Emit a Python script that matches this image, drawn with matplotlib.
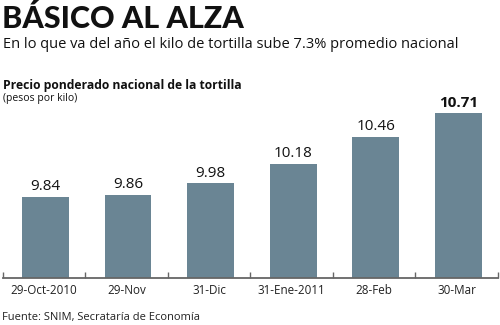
import matplotlib.pyplot as plt
import numpy as np

fechas = ["29-Oct-2010", "29-Nov", "31-Dic", "31-Ene-2011", "28-Feb", "30-Mar"]
precios = [9.84, 9.86, 9.98, 10.18, 10.46, 10.71]
etiquetas = ["9.84", "9.86", "9.98", "10.18", "10.46", "10.71"]

bar_color = "#6a8594"
plt.rcParams["font.family"] = ["Open Sans", "DejaVu Sans"]

fig = plt.figure(figsize=(5, 3.25), dpi=100)
ax = fig.add_axes([0.005, 0.1446, 0.991, 0.5646])

x = np.arange(len(precios))
ax.bar(x + 0.02, precios, width=0.565, color=bar_color, bottom=0)
ax.set_ylim(9.0, 10.9)
ax.set_xlim(-0.5, len(precios) - 0.5)

for i, (v, t) in enumerate(zip(precios, etiquetas)):
    bold = i == len(precios) - 1
    ax.annotate(t, (i + 0.02, v), xytext=(0, 2), textcoords="offset points",
                ha="center", va="bottom", fontsize=11,
                fontweight="bold" if bold else "normal", color="#111111")

for s in ["top", "right", "left"]:
    ax.spines[s].set_visible(False)
ax.spines["bottom"].set_color("#666666")
ax.spines["bottom"].set_linewidth(1.3)
ax.set_yticks([])
ax.set_xticks(x)
ax.set_xticklabels(fechas, fontsize=8.4, color="#222222")
ax.tick_params(axis="x", which="major", length=0, pad=4)
ax.set_xticks(np.arange(-0.5, len(precios)), minor=True)
ax.tick_params(axis="x", which="minor", direction="in", length=4,
               width=1.0, color="#666666")

fig.text(0.004, 0.985, "BÁSICO AL ALZA", fontsize=22, fontweight="black",
         family=["Lato", "DejaVu Sans"], color="#111111", va="top")
fig.text(0.006, 0.862, "En lo que va del año el kilo de tortilla sube 7.3% promedio nacional",
         fontsize=10.5, color="#111111", va="center")
fig.text(0.006, 0.738, "Precio ponderado nacional de la tortilla", fontsize=8.7,
         fontweight="bold", color="#111111", va="center")
fig.text(0.006, 0.697, "(pesos por kilo)", fontsize=7.5, color="#111111", va="center")
fig.text(0.004, 0.022, "Fuente: SNIM, Secratarí­a de Economí­a".replace("\u00ad", ""),
         fontsize=8.0, color="#222222", va="center")

fig.savefig("out.png", dpi=100)
